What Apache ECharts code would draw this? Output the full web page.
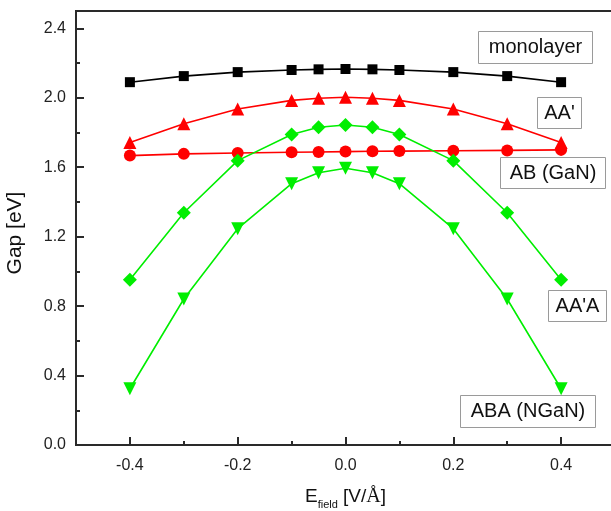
<!DOCTYPE html>
<html>
<head>
<meta charset="utf-8">
<script src="https://cdn.jsdelivr.net/npm/echarts@6/dist/echarts.min.js"></script>
<style>
html,body{margin:0;padding:0;background:#fff;}
#c{width:611px;height:511px;}
</style>
</head>
<body>
<div id="c"></div>
<script>
// ---- data ----
const fieldValues = [-0.4, -0.3, -0.2, -0.1, -0.05, 0, 0.05, 0.1, 0.2, 0.3, 0.4];
const monolayer = [2.09, 2.125, 2.148, 2.16, 2.164, 2.166, 2.164, 2.16, 2.148, 2.125, 2.09];
const aaPrime   = [1.743, 1.851, 1.935, 1.985, 1.997, 2.003, 1.997, 1.985, 1.935, 1.851, 1.743];
const abGaN     = [1.667, 1.677, 1.682, 1.686, 1.688, 1.69, 1.692, 1.693, 1.695, 1.697, 1.70];
const aaPrimeA  = [0.952, 1.338, 1.638, 1.789, 1.83, 1.843, 1.83, 1.789, 1.638, 1.338, 0.952];
const abaNGaN   = [0.324, 0.841, 1.246, 1.505, 1.568, 1.594, 1.568, 1.505, 1.246, 0.841, 0.324];
const xMajorTicks = [-0.4, -0.2, 0, 0.2, 0.4];
const xMinorTicks = [-0.3, -0.1, 0.1, 0.3];
const yMajorTicks = [0, 0.4, 0.8, 1.2, 1.6, 2.0, 2.4];
const yMinorTicks = [0.2, 0.6, 1.0, 1.4, 1.8, 2.2];
const labels = ['monolayer', "AA'", 'AB (GaN)', "AA'A", 'ABA (NGaN)'];

const pair = arr => fieldValues.map((x, i) => [x, arr[i]]);
const FONT = '"Liberation Sans", Arial, Helvetica, sans-serif';
const AX = '#2a2a2a';
const GREEN = '#00ee00';
const RED = '#ff0000';

const chart = echarts.init(document.getElementById('c'));

function lineSeries(name, data, color, symbol, size, rotate) {
  return {
    name, type: 'line', data: pair(data), xAxisIndex: 0, yAxisIndex: 0,
    symbol, symbolSize: size, symbolRotate: rotate || 0, showSymbol: true,
    lineStyle: {color, width: 1.6}, itemStyle: {color},
    animation: false, z: 3
  };
}

function boxText(text, x, y, w, h) {
  return {
    type: 'group', left: x, top: y, z: 10,
    children: [
      {type: 'rect', shape: {x: 0, y: 0, width: w, height: h},
       style: {fill: '#fff', stroke: '#9a9a9a', lineWidth: 1}},
      {type: 'text', x: w / 2, y: h / 2,
       style: {text, font: '20px ' + FONT, fill: '#111', align: 'center', verticalAlign: 'middle'}}
    ]
  };
}

const option = {
  animation: false,
  backgroundColor: '#fff',
  grid: {left: 76, top: 11, right: -4, bottom: 66, outerBoundsMode: 'none', containLabel: false,
         show: true, borderColor: AX, borderWidth: 2, backgroundColor: 'transparent'},
  xAxis: [
    {
      type: 'value', min: -0.5, max: 0.5, position: 'bottom',
      name: '{a|E}{b|field}{a| [V/}{c|Å}{a|]}',
      nameLocation: 'middle', nameGap: 42,
      nameTextStyle: {
        rich: {
          a: {fontFamily: FONT, fontSize: 19, color: '#111', lineHeight: 22, verticalAlign: 'top'},
          b: {fontFamily: FONT, fontSize: 11, color: '#111', lineHeight: 14, verticalAlign: 'top', padding: [12, 0, 0, 0]},
          c: {fontFamily: '"Liberation Serif", "Times New Roman", serif', fontSize: 20, color: '#111', lineHeight: 22, verticalAlign: 'top'}
        }
      },
      axisLine: {onZero: false, lineStyle: {color: AX, width: 2}},
      axisTick: {inside: true, length: 8, lineStyle: {color: AX, width: 2}, customValues: xMajorTicks},
      axisLabel: {customValues: xMajorTicks, formatter: v => v.toFixed(1), fontFamily: FONT, fontSize: 16, color: '#222', margin: 13},
      splitLine: {show: false}
    },
    {
      type: 'value', min: -0.5, max: 0.5, position: 'bottom',
      axisLine: {show: false, onZero: false},
      axisTick: {inside: true, length: 4, lineStyle: {color: AX, width: 2}, customValues: xMinorTicks},
      axisLabel: {show: false},
      splitLine: {show: false}
    }
  ],
  yAxis: [
    {
      type: 'value', min: 0, max: 2.5, position: 'left',
      name: 'Gap [eV]', nameLocation: 'middle', nameGap: 50, nameRotate: 90,
      nameTextStyle: {fontFamily: FONT, fontSize: 21, color: '#111', padding: [0, 10, 0, 0]},
      axisLine: {onZero: false, lineStyle: {color: AX, width: 2}},
      axisTick: {inside: true, length: 8, lineStyle: {color: AX, width: 2}, customValues: yMajorTicks},
      axisLabel: {customValues: yMajorTicks, formatter: v => v.toFixed(1), fontFamily: FONT, fontSize: 16, color: '#222', margin: 10},
      splitLine: {show: false}
    },
    {
      type: 'value', min: 0, max: 2.5, position: 'left', offset: 0,
      axisLine: {show: false, onZero: false},
      axisTick: {inside: true, length: 4, lineStyle: {color: AX, width: 2}, customValues: yMinorTicks},
      axisLabel: {show: false},
      splitLine: {show: false}
    }
  ],
  series: [
    lineSeries(labels[0], monolayer, '#000', 'rect', 10),
    lineSeries(labels[1], aaPrime, RED, 'triangle', 13),
    lineSeries(labels[2], abGaN, RED, 'circle', 12),
    lineSeries(labels[3], aaPrimeA, GREEN, 'diamond', 14),
    lineSeries(labels[4], abaNGaN, GREEN, 'triangle', 13, 180)
  ],
  graphic: [
    boxText(labels[0], 478, 31, 114, 32),
    boxText(labels[1], 537, 97, 44, 31),
    boxText(labels[2], 500, 157, 105, 31),
    boxText(labels[3], 548, 290, 58, 31),
    boxText(labels[4], 460, 395, 135, 32)
  ]
};
chart.setOption(option);
</script>
</body>
</html>
